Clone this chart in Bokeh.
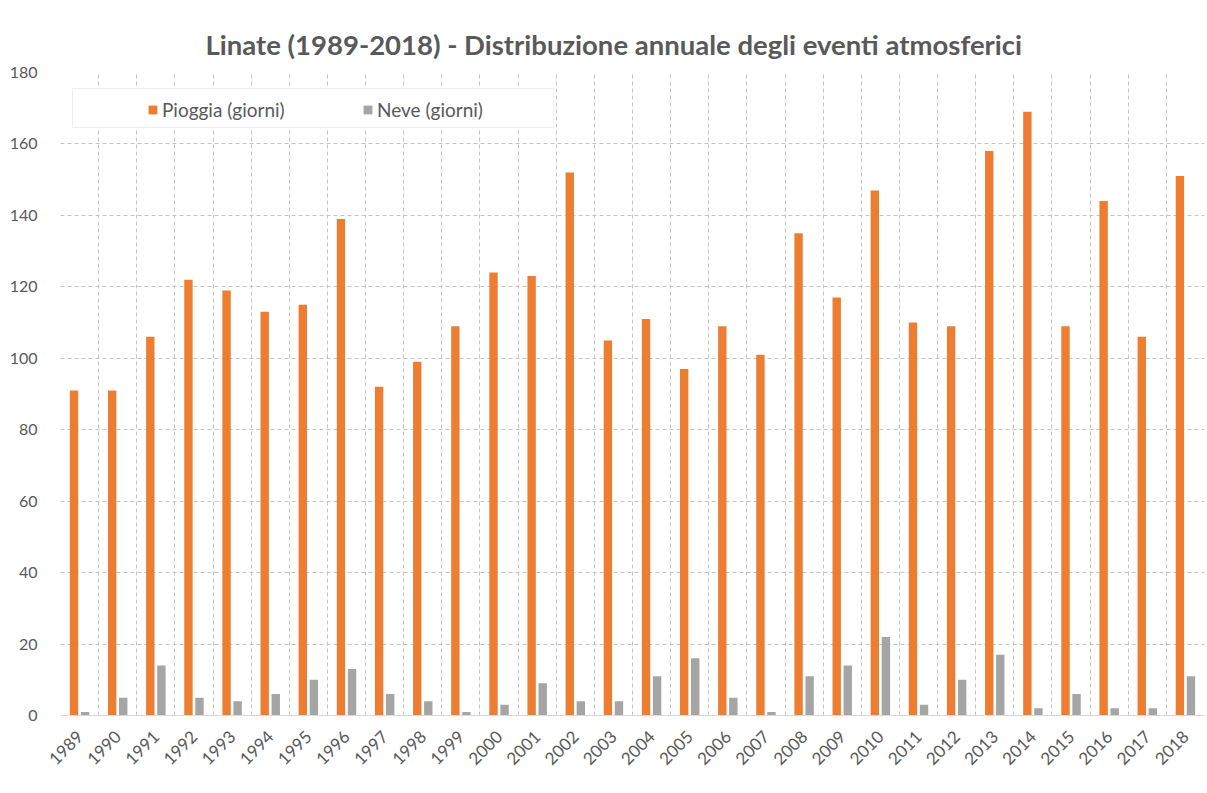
from math import pi
from bokeh.plotting import figure
from bokeh.models import (ColumnDataSource, FactorRange, Range1d, FixedTicker,
                          Legend, LegendItem, BoxAnnotation)
from bokeh.transform import dodge
from bokeh.embed import file_html
from bokeh.resources import INLINE

years = [str(y) for y in range(1989, 2019)]
pioggia = [91, 91, 106, 122, 119, 113, 115, 139, 92, 99,
           109, 124, 123, 152, 105, 111, 97, 109, 101, 135,
           117, 147, 110, 109, 158, 169, 109, 144, 106, 151]
neve = [1, 5, 14, 5, 4, 6, 10, 13, 6, 4,
        1, 3, 9, 4, 4, 11, 16, 5, 1, 11,
        14, 22, 3, 10, 17, 2, 6, 2, 2, 11]
y_ticks = [0, 20, 40, 60, 80, 100, 120, 140, 160, 180]

TEXT = "#595959"
GRID = "#c4c4c4"
FONT = "Lato"

src = ColumnDataSource(dict(year=years, rain=pioggia, snow=neve))

p = figure(x_range=FactorRange(*years), y_range=Range1d(0, 180),
           width=1205, height=790, output_backend="svg", toolbar_location=None,
           min_border_left=60, min_border_right=1, min_border_top=72,
           min_border_bottom=75)

p.title.text = "Linate (1989-2018) - Distribuzione annuale degli eventi atmosferici"
p.title.text_font = FONT
p.title.text_font_size = "27.5px"
p.title.text_font_style = "bold"
p.title.text_color = TEXT
p.title.align = "left"
p.title.offset = 145
p.title.standoff = 23

r1 = p.vbar(x=dodge("year", -0.145, range=p.x_range), top="rain", width=0.22,
            source=src, color="#ED7D31", line_color=None)
r2 = p.vbar(x=dodge("year", 0.145, range=p.x_range), top="snow", width=0.22,
            source=src, color="#A5A5A5", line_color=None)

p.outline_line_color = None
p.background_fill_color = "white"
p.border_fill_color = "white"

# grids
p.ygrid.ticker = FixedTicker(ticks=y_ticks)
p.ygrid.grid_line_color = GRID
p.ygrid.grid_line_dash = "4 3"
p.xgrid.ticker = FixedTicker(ticks=list(range(0, 31)))
p.xgrid.grid_line_color = GRID
p.xgrid.grid_line_dash = "4 3"

# axes
p.yaxis.ticker = FixedTicker(ticks=y_ticks)
p.yaxis.axis_line_color = None
p.yaxis.major_tick_line_color = None
p.yaxis.minor_tick_line_color = None
p.yaxis.major_label_text_font = FONT
p.yaxis.major_label_text_font_size = "16px"
p.yaxis.major_label_text_color = TEXT
p.yaxis.major_label_standoff = 17

p.xaxis.axis_line_color = "#d9d9d9"
p.xaxis.axis_line_width = 1
p.xaxis.major_tick_line_color = None
p.xaxis.minor_tick_line_color = None
p.xaxis.major_label_orientation = pi / 4
p.xaxis.major_label_text_font = FONT
p.xaxis.major_label_text_font_size = "17px"
p.xaxis.major_label_text_color = TEXT
p.xaxis.major_label_standoff = 12

# legend box
box = BoxAnnotation(left=0.315, right=12.93, bottom=164.6, top=175.5,
                    fill_color="white", fill_alpha=1.0,
                    line_color="#c8c8c8", line_width=1)
p.add_layout(box)

legend = Legend(items=[LegendItem(label="Pioggia (giorni)", renderers=[r1]),
                       LegendItem(label="Neve (giorni)", renderers=[r2])],
                orientation="horizontal", location=(87, 594),
                border_line_color=None, background_fill_alpha=0,
                padding=5, margin=0, spacing=10,
                glyph_width=11, glyph_height=11, label_standoff=4,
                label_width=190,
                label_text_font=FONT, label_text_font_size="19px",
                label_text_color=TEXT)
p.add_layout(legend, "center")

open("out.html", "w").write(file_html(p, INLINE))
